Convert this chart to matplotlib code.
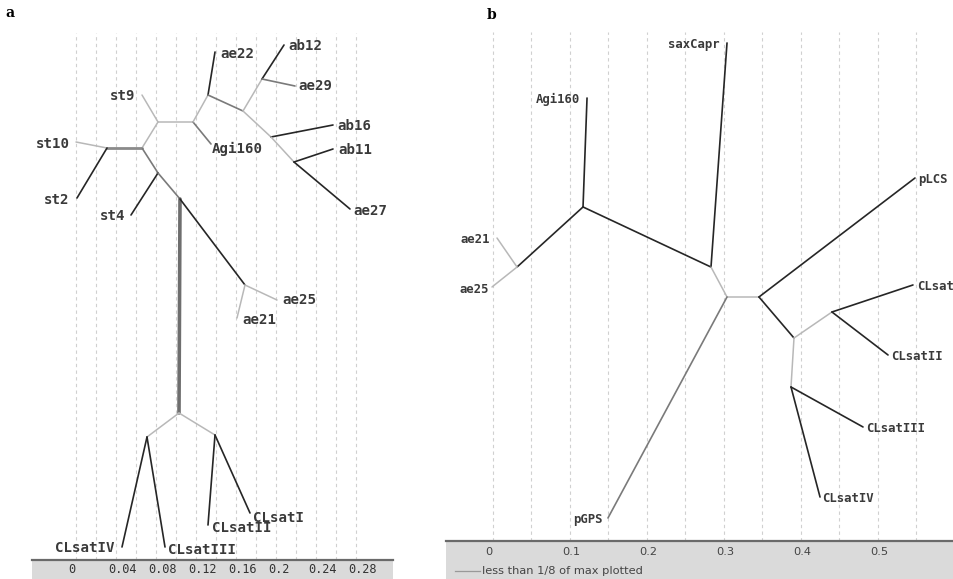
import matplotlib
matplotlib.use("Agg")
import matplotlib.pyplot as plt
from matplotlib.patches import Rectangle

# ---------------- Panel a data (split network) ----------------
a_node_names = ['st10', 'n1', 'st2', 'n2', 'n3', 'st9', 'n4', 'Agi160', 'n5', 'ae22',
                'n6', 'n7', 'ab12', 'ae29', 'n8', 'ab16', 'n9', 'ab11', 'ae27', 'n10',
                'st4', 'n11', 'n12', 'ae25', 'ae21', 'n13', 'n14', 'n15',
                'CLsatIV', 'CLsatIII', 'CLsatII', 'CLsatI']
a_node_x = [0.008, 0.039, 0.009, 0.074, 0.090, 0.074, 0.125, 0.143, 0.140, 0.147,
            0.175, 0.194, 0.216, 0.227, 0.203, 0.265, 0.226, 0.265, 0.282, 0.090,
            0.063, 0.112, 0.177, 0.209, 0.169, 0.111, 0.079, 0.147,
            0.054, 0.097, 0.140, 0.182]
a_node_y = [0.418, 0.412, 0.362, 0.412, 0.438, 0.465, 0.438, 0.416, 0.465, 0.508,
            0.449, 0.481, 0.515, 0.474, 0.423, 0.435, 0.398, 0.411, 0.351, 0.387,
            0.345, 0.361, 0.275, 0.260, 0.242, 0.147, 0.123, 0.125,
            0.013, 0.013, 0.035, 0.047]
a_edges = [('st10', 'n1', 'light'), ('n1', 'n2', 'midthick'), ('n1', 'st2', 'dark'),
           ('n2', 'n3', 'light'), ('st9', 'n3', 'light'), ('n3', 'n4', 'light'),
           ('n4', 'Agi160', 'mid'), ('n4', 'n5', 'light'), ('n5', 'ae22', 'dark'),
           ('n5', 'n6', 'mid'), ('n6', 'n7', 'light'), ('n7', 'ab12', 'dark'),
           ('n7', 'ae29', 'mid'), ('n6', 'n8', 'light'), ('n8', 'ab16', 'dark'),
           ('n8', 'n9', 'light'), ('n9', 'ab11', 'dark'), ('n9', 'ae27', 'dark'),
           ('n2', 'n10', 'mid'), ('n10', 'st4', 'dark'), ('n10', 'n11', 'mid'),
           ('n11', 'n13', 'thick'), ('n11', 'n12', 'dark'), ('n12', 'ae25', 'light'),
           ('n12', 'ae21', 'light'), ('n13', 'n14', 'light'), ('n13', 'n15', 'light'),
           ('n14', 'CLsatIV', 'dark'), ('n14', 'CLsatIII', 'dark'),
           ('n15', 'CLsatII', 'dark'), ('n15', 'CLsatI', 'dark')]
a_leaf_labels = ['st10', 'st2', 'st9', 'ae22', 'ab12', 'ae29', 'ab16', 'ab11', 'ae27',
                 'Agi160', 'st4', 'ae25', 'ae21', 'CLsatIV', 'CLsatIII', 'CLsatII', 'CLsatI']
a_label_side = ['right', 'right', 'right', 'left', 'left', 'left', 'left', 'left', 'left',
                'left', 'right', 'left', 'left', 'right', 'left', 'left', 'left']
a_label_dx = [-6, -8, -7, 5, 4, 3, 4, 5, 3, 1, -6, 5, 5, -7, 3, 4, 3]
a_label_dy = [0, 0, 1, 0, 0, 2, 1, 1, 0, -3, 1, 1, 0, 1, -1, -2, -4]
a_ticks = [0, 0.04, 0.08, 0.12, 0.16, 0.2, 0.24, 0.28]
a_tick_labels = ['0', '0.04', '0.08', '0.12', '0.16', '0.2', '0.24', '0.28']

# ---------------- Panel b data ----------------
b_node_names = ['saxCapr', 'm1', 'Agi160', 'm2', 'm3', 'ae21', 'ae25', 'm4', 'm5',
                'pGPS', 'pLCS', 'm6', 'm7', 'CLsat', 'CLsatII', 'm8', 'CLsatIII', 'CLsatIV']
b_node_x = [0.3143, 0.2935, 0.1325, 0.1273, 0.0416, 0.0156, 0.0091, 0.3143, 0.3558,
            0.1597, 0.5584, 0.4013, 0.4506, 0.5558, 0.5234, 0.3974, 0.4909, 0.4351]
b_node_y = [0.6468, 0.3558, 0.5753, 0.4338, 0.3558, 0.3935, 0.3299, 0.3169, 0.3169,
            0.0299, 0.4714, 0.2636, 0.2974, 0.3325, 0.2416, 0.2000, 0.1481, 0.0571]
b_edges = [('saxCapr', 'm1', 'dark'), ('Agi160', 'm2', 'dark'), ('m2', 'm1', 'dark'),
           ('m2', 'm3', 'dark'), ('m3', 'ae21', 'light'), ('m3', 'ae25', 'light'),
           ('m1', 'm4', 'light'), ('m4', 'm5', 'light'), ('m4', 'pGPS', 'mid'),
           ('m5', 'pLCS', 'dark'), ('m5', 'm6', 'dark'), ('m6', 'm7', 'light'),
           ('m7', 'CLsat', 'dark'), ('m7', 'CLsatII', 'dark'), ('m6', 'm8', 'light'),
           ('m8', 'CLsatIII', 'dark'), ('m8', 'CLsatIV', 'dark')]
b_leaf_labels = ['saxCapr', 'Agi160', 'ae21', 'ae25', 'pGPS', 'pLCS', 'CLsat',
                 'CLsatII', 'CLsatIII', 'CLsatIV']
b_label_side = ['right', 'right', 'right', 'right', 'right', 'left', 'left', 'left', 'left', 'left']
b_label_dx = [-7, -7, -7, -3, -5, 3, 4, 3, 3, 2]
b_label_dy = [0, 0, 0, -1, 0, 0, 0, 0, 0, 0]
b_ticks = [0, 0.1, 0.2, 0.3, 0.4, 0.5]
b_tick_labels = ['0', '0.1', '0.2', '0.3', '0.4', '0.5']
legend_text = 'less than 1/8 of max plotted'

STYLES = {
    'dark': dict(color='#262626', lw=1.2),
    'mid': dict(color='#7a7a7a', lw=1.2),
    'midthick': dict(color='#8a8a8a', lw=2.0),
    'light': dict(color='#b8b8b8', lw=1.1),
    'thick': dict(color='#6e6e6e', lw=2.6),
}

W, H = 954, 579
fig = plt.figure(figsize=(W / 100, H / 100), dpi=100)


def draw_tree(ax, names, xs, ys, edges, leaves, sides, dxs, dys, fsize):
    pos = {n: (x, y) for n, x, y in zip(names, xs, ys)}
    for a, b, s in edges:
        (x0, y0), (x1, y1) = pos[a], pos[b]
        ax.plot([x0, x1], [y0, y1], solid_capstyle='round', zorder=3, **STYLES[s])
    for lab, side, dx, dy in zip(leaves, sides, dxs, dys):
        ax.annotate(lab, pos[lab], xytext=(dx, dy), textcoords='offset pixels',
                    ha=side, va='center_baseline', fontsize=fsize,
                    family='DejaVu Sans Mono', fontweight='bold', color='#3a3a3a', zorder=4)


# ---- panel a axes: x px = 68 + 1000*v, y px = 560 - 1000*v
axa = fig.add_axes([0, 0, 477 / W, 1])
axa.set_xlim((0 - 68) / 1000, (477 - 68) / 1000)
axa.set_ylim((560 - 579) / 1000, 560 / 1000)
axa.axis('off')
for k in range(15):
    gx = 0.008 + 0.02 * k
    axa.plot([gx, gx], [0, 0.527], color='#d0d0d0', lw=0.8, ls=(0, (3, 3)), zorder=1)
axa.add_patch(Rectangle((-0.036, -0.019), 0.361, 0.019, facecolor='#dadada',
                        edgecolor='none', zorder=2))
axa.plot([-0.036, 0.325], [0, 0], color='#6a6a6a', lw=1.6, zorder=2)
for t, l in zip(a_ticks, a_tick_labels):
    axa.text(t, -0.0095, l, ha='left', va='center', fontsize=8.6,
             family='DejaVu Sans Mono', color='#333333', zorder=3)
draw_tree(axa, a_node_names, a_node_x, a_node_y, a_edges, a_leaf_labels,
          a_label_side, a_label_dx, a_label_dy, 10.2)

# ---- panel b axes: x px = 485 + 770*v, y px = 541 - 770*v
axb = fig.add_axes([477 / W, 0, 1 - 477 / W, 1])
axb.set_xlim((477 - 485) / 770, (954 - 485) / 770)
axb.set_ylim((541 - 579) / 770, 541 / 770)
axb.axis('off')
for k in range(12):
    gx = 0.01 + 0.05 * k
    axb.plot([gx, gx], [0, 0.661], color='#d0d0d0', lw=0.8, ls=(0, (3, 3)), zorder=1)
axb.add_patch(Rectangle((-0.0506, -0.05), 0.66, 0.05, facecolor='#dadada',
                        edgecolor='none', zorder=2, clip_on=False))
axb.plot([-0.0506, 0.61], [0, 0], color='#6a6a6a', lw=1.6, zorder=2, clip_on=False)
for t, l in zip(b_ticks, b_tick_labels):
    axb.text(t, -0.0143, l, ha='left', va='center', fontsize=8.2,
             family='DejaVu Sans', color='#444444', zorder=3)
axb.plot([-0.039, -0.0065], [-0.0390, -0.0390], color='#999999', lw=0.9, zorder=3,
         clip_on=False)
axb.text(-0.004, -0.0390, legend_text, ha='left', va='center', fontsize=8.2,
         family='DejaVu Sans', color='#444444', zorder=3)
draw_tree(axb, b_node_names, b_node_x, b_node_y, b_edges, b_leaf_labels,
          b_label_side, b_label_dx, b_label_dy, 8.8)

# panel letters
fig.text(10 / W, 1 - 13 / H, 'a', ha='center', va='center', fontsize=10,
         family='DejaVu Serif', fontweight='bold')
fig.text(492 / W, 1 - 15 / H, 'b', ha='center', va='center', fontsize=10,
         family='DejaVu Serif', fontweight='bold')

fig.savefig('out.png', dpi=100)
